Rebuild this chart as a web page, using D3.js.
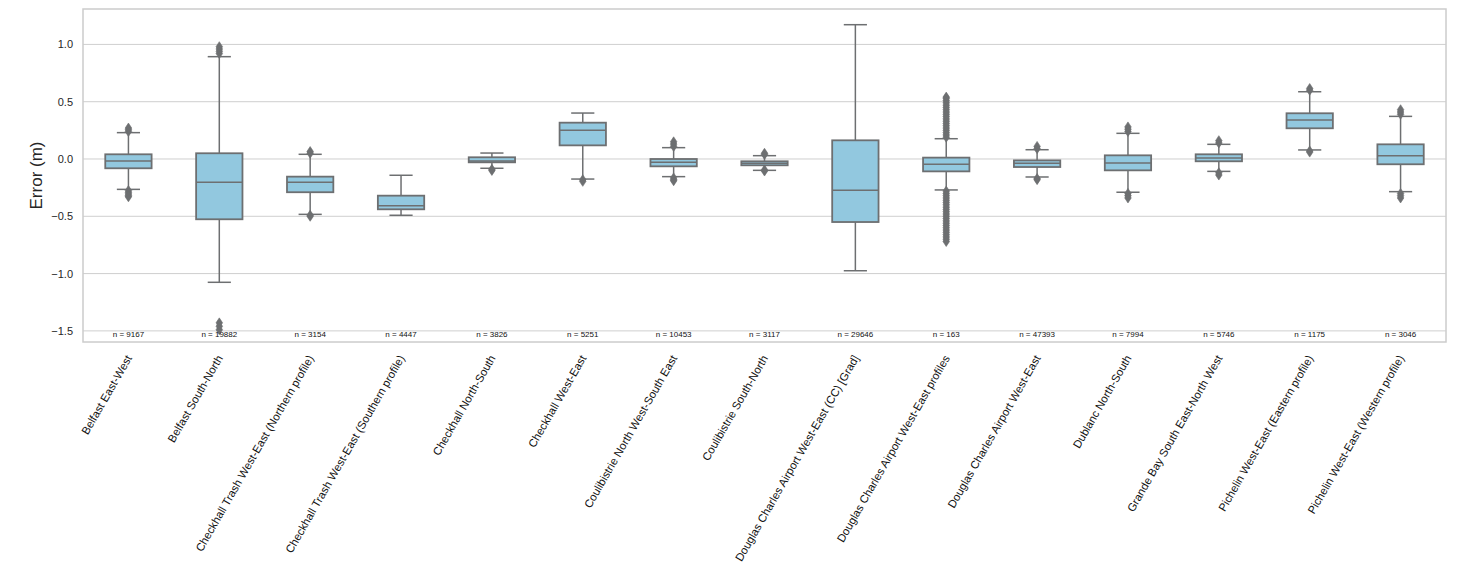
<!DOCTYPE html>
<html>
<head>
<meta charset="utf-8">
<script src="https://cdn.jsdelivr.net/npm/d3@7"></script>
<style>
  body { margin: 0; background: #fff; }
  text { font-family: Arial, 'Liberation Sans', sans-serif; }
</style>
</head>
<body>
<script>
const categories = [
  'Belfast East-West',
  'Belfast South-North',
  'Checkhall Trash West-East (Northern profile)',
  'Checkhall Trash West-East (Southern profile)',
  'Checkhall North-South',
  'Checkhall West-East',
  'Coulibistrie North West-South East',
  'Coulibistrie South-North',
  'Douglas Charles Airport West-East (CC) [Grad]',
  'Douglas Charles Airport West-East profiles',
  'Douglas Charles Airport West-East',
  'Dublanc North-South',
  'Grande Bay South East-North West',
  'Pichelin West-East (Eastern profile)',
  'Pichelin West-East (Western profile)'
];
const counts = [9167, 19882, 3154, 4447, 3826, 5251, 10453, 3117, 29646, 163, 47393, 7994, 5746, 1175, 3046];

const whiskerLow = [-0.265, -1.076, -0.483, -0.491, -0.081, -0.175, -0.154, -0.099, -0.975, -0.27, -0.157, -0.29, -0.108, 0.079, -0.285];
const q1 = [-0.081, -0.526, -0.29, -0.439, -0.029, 0.119, -0.064, -0.055, -0.55, -0.108, -0.07, -0.099, -0.02, 0.268, -0.046];
const median = [-0.017, -0.203, -0.203, -0.407, -0.017, 0.25, -0.029, -0.038, -0.273, -0.046, -0.038, -0.035, 0.009, 0.34, 0.029];
const q3 = [0.041, 0.05, -0.154, -0.32, 0.015, 0.317, 0.0, -0.02, 0.163, 0.012, -0.012, 0.032, 0.041, 0.399, 0.128];
const whiskerHigh = [0.23, 0.893, 0.041, -0.142, 0.052, 0.401, 0.099, 0.029, 1.172, 0.177, 0.081, 0.224, 0.128, 0.587, 0.372];

const outliers = [
  [0.24, 0.255, 0.27, -0.275, -0.29, -0.305, -0.32, -0.33],
  [0.92, 0.94, 0.96, 0.98, -1.43, -1.46, -1.49],
  [0.05, 0.065, -0.49, -0.5],
  [],
  [-0.09, -0.1],
  [-0.18, -0.195],
  [0.11, 0.13, 0.15, -0.165, -0.18, -0.19],
  [0.04, 0.05, -0.095, -0.105],
  [],
  [0.19, 0.21, 0.23, 0.25, 0.27, 0.29, 0.31, 0.33, 0.35, 0.37, 0.39, 0.41, 0.43, 0.45, 0.47, 0.49, 0.51, 0.53, 0.54,
   -0.28, -0.30, -0.32, -0.34, -0.36, -0.38, -0.40, -0.42, -0.44, -0.46, -0.48, -0.50, -0.52, -0.54, -0.56, -0.58,
   -0.60, -0.62, -0.64, -0.66, -0.68, -0.70, -0.72],
  [0.09, 0.11, -0.17, -0.18],
  [0.24, 0.26, 0.28, -0.3, -0.32, -0.34],
  [0.14, 0.16, -0.12, -0.14],
  [0.6, 0.615, 0.07, 0.06],
  [0.39, 0.41, 0.43, -0.3, -0.32, -0.34]
];

const yTicks = [-1.5, -1.0, -0.5, 0.0, 0.5, 1.0];

const W = 1463, H = 580;
const margin = {top: 9, right: 17, bottom: 238, left: 83};
const boxFill = '#92c8df';
const lineCol = '#6d6f71';

const svg = d3.select('body').append('svg')
  .attr('width', W)
  .attr('height', H);

const x = d3.scaleBand()
  .domain(categories)
  .range([margin.left, W - margin.right]);

const y = d3.scaleLinear()
  .domain([-1.597, 1.309])
  .range([H - margin.bottom, margin.top]);

// grid
svg.append('g')
  .selectAll('line')
  .data(yTicks)
  .join('line')
  .attr('x1', margin.left)
  .attr('x2', W - margin.right)
  .attr('y1', d => y(d))
  .attr('y2', d => y(d))
  .attr('stroke', '#cfcfcf')
  .attr('stroke-width', 1);

// y axis labels (no ticks, seaborn whitegrid style)
const yAxis = d3.axisLeft(y)
  .tickValues(yTicks)
  .tickSize(0)
  .tickPadding(10)
  .tickFormat(d => d3.format('.1f')(d).replace('-', '\u2212'));

svg.append('g')
  .attr('transform', `translate(${margin.left},0)`)
  .call(yAxis)
  .call(g => g.select('.domain').remove())
  .call(g => g.selectAll('text')
    .attr('font-size', 11)
    .attr('fill', '#262626'));

svg.append('text')
  .attr('transform', `translate(42,${(margin.top + H - margin.bottom) / 2}) rotate(-90)`)
  .attr('text-anchor', 'middle')
  .attr('font-size', 17)
  .attr('fill', '#262626')
  .text('Error (m)');

// boxes
const bw = x.bandwidth() * 0.51;
const g = svg.append('g');

categories.forEach((c, i) => {
  const cx = x(c) + x.bandwidth() / 2;
  const grp = g.append('g');

  // whiskers
  grp.append('line')
    .attr('x1', cx).attr('x2', cx)
    .attr('y1', y(q3[i])).attr('y2', y(whiskerHigh[i]))
    .attr('stroke', lineCol).attr('stroke-width', 1.5);
  grp.append('line')
    .attr('x1', cx).attr('x2', cx)
    .attr('y1', y(q1[i])).attr('y2', y(whiskerLow[i]))
    .attr('stroke', lineCol).attr('stroke-width', 1.5);

  // caps
  [whiskerHigh[i], whiskerLow[i]].forEach(v => {
    grp.append('line')
      .attr('x1', cx - bw / 4).attr('x2', cx + bw / 4)
      .attr('y1', y(v)).attr('y2', y(v))
      .attr('stroke', lineCol).attr('stroke-width', 1.5);
  });

  // box
  grp.append('rect')
    .attr('x', cx - bw / 2)
    .attr('width', bw)
    .attr('y', y(q3[i]))
    .attr('height', Math.max(y(q1[i]) - y(q3[i]), 1))
    .attr('fill', boxFill)
    .attr('stroke', lineCol)
    .attr('stroke-width', 1.8);

  // median
  grp.append('line')
    .attr('x1', cx - bw / 2).attr('x2', cx + bw / 2)
    .attr('y1', y(median[i])).attr('y2', y(median[i]))
    .attr('stroke', lineCol).attr('stroke-width', 1.5);

  // outliers (thin diamonds)
  grp.selectAll('path.flier')
    .data(outliers[i])
    .join('path')
    .attr('class', 'flier')
    .attr('d', 'M0,-5L3.3,0L0,5L-3.3,0Z')
    .attr('transform', d => `translate(${cx},${y(d)})`)
    .attr('fill', lineCol)
    .attr('stroke', lineCol)
    .attr('stroke-width', 0.6);

  // n labels
  grp.append('text')
    .attr('x', cx)
    .attr('y', y(-1.5) + 6)
    .attr('text-anchor', 'middle')
    .attr('font-size', 8)
    .attr('fill', '#111')
    .text(`n = ${counts[i]}`);
});

// frame
svg.append('rect')
  .attr('x', margin.left)
  .attr('y', margin.top)
  .attr('width', W - margin.left - margin.right)
  .attr('height', H - margin.top - margin.bottom)
  .attr('fill', 'none')
  .attr('stroke', '#cccccc')
  .attr('stroke-width', 1.5);

// x labels rotated
svg.append('g')
  .selectAll('text')
  .data(categories)
  .join('text')
  .attr('transform', d => `translate(${x(d) + x.bandwidth() / 2 + 4},358) rotate(-60)`)
  .attr('text-anchor', 'end')
  .attr('font-size', 11.3)
  .attr('fill', '#111')
  .text(d => d);
</script>
</body>
</html>
